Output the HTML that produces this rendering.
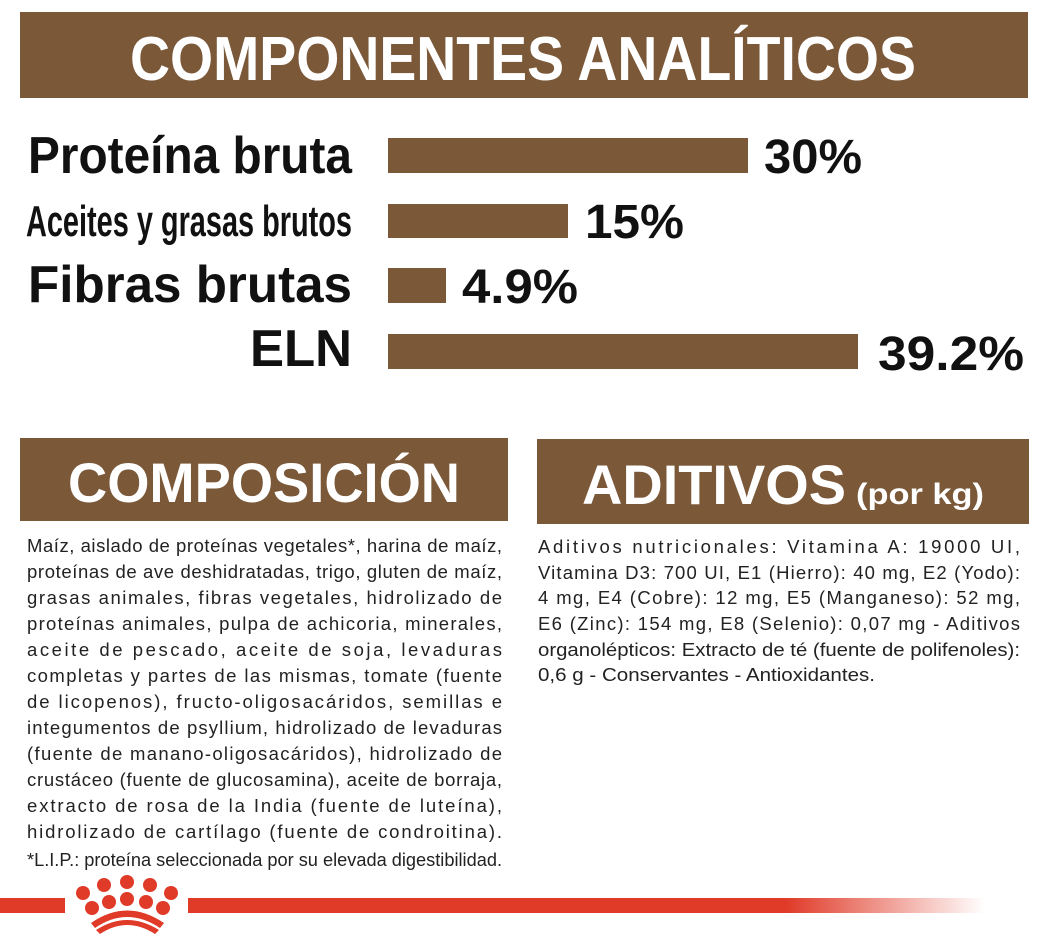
<!DOCTYPE html>
<html><head><meta charset="utf-8"><style>
html,body{margin:0;padding:0;background:#fff}
svg{display:block}
text{font-family:"Liberation Sans",sans-serif}
.b{font-weight:bold}
.t{font-size:18.5px;fill:#222}
</style></head><body>
<svg width="1040" height="948" viewBox="0 0 1040 948" xmlns="http://www.w3.org/2000/svg">
<defs><linearGradient id="fade" x1="0" x2="1"><stop offset="0" stop-color="#e03a28"/><stop offset="0.75" stop-color="#e03a28"/><stop offset="1" stop-color="#e03a28" stop-opacity="0"/></linearGradient></defs>
<rect x="20" y="12" width="1008" height="86" fill="#7a5838"/>
<text x="130" y="80" class="b" font-size="62" fill="#fff" textLength="786" lengthAdjust="spacingAndGlyphs">COMPONENTES ANALÍTICOS</text>

<g class="b" fill="#111">
<text x="28" y="173" font-size="52" textLength="324" lengthAdjust="spacingAndGlyphs">Proteína bruta</text>
<text x="26" y="236" font-size="44" textLength="326" lengthAdjust="spacingAndGlyphs">Aceites y grasas brutos</text>
<text x="28" y="302" font-size="52" textLength="324" lengthAdjust="spacingAndGlyphs">Fibras brutas</text>
<text x="250" y="366" font-size="52" textLength="102" lengthAdjust="spacingAndGlyphs">ELN</text>
<text x="764" y="173" font-size="48" textLength="98" lengthAdjust="spacingAndGlyphs">30%</text>
<text x="585" y="238" font-size="48" textLength="99" lengthAdjust="spacingAndGlyphs">15%</text>
<text x="462" y="303" font-size="48" textLength="116" lengthAdjust="spacingAndGlyphs">4.9%</text>
<text x="878" y="370" font-size="48" textLength="146" lengthAdjust="spacingAndGlyphs">39.2%</text>
</g>
<g fill="#7a5838">
<rect x="388" y="138" width="360" height="35"/>
<rect x="388" y="204" width="180" height="34"/>
<rect x="388" y="268" width="58" height="35"/>
<rect x="388" y="334" width="470" height="35"/>
<rect x="20" y="438" width="488" height="83"/>
<rect x="537" y="439" width="492" height="85"/>
</g>
<text x="68" y="502" class="b" font-size="56" fill="#fff" textLength="392" lengthAdjust="spacingAndGlyphs">COMPOSICIÓN</text>
<text x="582" y="504" class="b" font-size="56" fill="#fff" textLength="264" lengthAdjust="spacingAndGlyphs">ADITIVOS</text>
<text x="856" y="504" class="b" font-size="30" fill="#fff" textLength="128" lengthAdjust="spacingAndGlyphs">(por kg)</text>

<g class="t">
<text x="27" y="552" textLength="475" lengthAdjust="spacing">Maíz, aislado de proteínas vegetales*, harina de maíz,</text>
<text x="27" y="578" textLength="475" lengthAdjust="spacing">proteínas de ave deshidratadas, trigo, gluten de maíz,</text>
<text x="27" y="604" textLength="475" lengthAdjust="spacing">grasas animales, fibras vegetales, hidrolizado de</text>
<text x="27" y="630" textLength="475" lengthAdjust="spacing">proteínas animales, pulpa de achicoria, minerales,</text>
<text x="27" y="656" textLength="475" lengthAdjust="spacing">aceite de pescado, aceite de soja, levaduras</text>
<text x="27" y="682" textLength="475" lengthAdjust="spacing">completas y partes de las mismas, tomate (fuente</text>
<text x="27" y="708" textLength="475" lengthAdjust="spacing">de licopenos), fructo-oligosacáridos, semillas e</text>
<text x="27" y="734" textLength="475" lengthAdjust="spacing">integumentos de psyllium, hidrolizado de levaduras</text>
<text x="27" y="760" textLength="475" lengthAdjust="spacing">(fuente de manano-oligosacáridos), hidrolizado de</text>
<text x="27" y="786" textLength="475" lengthAdjust="spacing">crustáceo (fuente de glucosamina), aceite de borraja,</text>
<text x="27" y="812" textLength="475" lengthAdjust="spacing">extracto de rosa de la India (fuente de luteína),</text>
<text x="27" y="838" textLength="475" lengthAdjust="spacing">hidrolizado de cartílago (fuente de condroitina).</text>
<text x="27" y="866" textLength="475" lengthAdjust="spacingAndGlyphs">*L.I.P.: proteína seleccionada por su elevada digestibilidad.</text>

<text x="538" y="553" textLength="482" lengthAdjust="spacing">Aditivos nutricionales: Vitamina A: 19000 UI,</text>
<text x="538" y="579" textLength="482" lengthAdjust="spacing">Vitamina D3: 700 UI, E1 (Hierro): 40 mg, E2 (Yodo):</text>
<text x="538" y="604" textLength="482" lengthAdjust="spacing">4 mg, E4 (Cobre): 12 mg, E5 (Manganeso): 52 mg,</text>
<text x="538" y="630" textLength="482" lengthAdjust="spacing">E6 (Zinc): 154 mg, E8 (Selenio): 0,07 mg - Aditivos</text>
<text x="538" y="656" textLength="482" lengthAdjust="spacingAndGlyphs">organolépticos: Extracto de té (fuente de polifenoles):</text>
<text x="538" y="681" textLength="337" lengthAdjust="spacingAndGlyphs">0,6 g - Conservantes - Antioxidantes.</text>
</g>

<rect x="0" y="898" width="65" height="15" fill="#e03a28"/>
<rect x="188" y="898" width="797" height="15" fill="url(#fade)"/>
<g fill="#e03a28">
<circle cx="83" cy="893" r="7"/>
<circle cx="104" cy="885" r="7"/>
<circle cx="127" cy="882" r="7"/>
<circle cx="150" cy="885" r="7"/>
<circle cx="171" cy="893" r="7"/>
<circle cx="92" cy="908" r="7"/>
<circle cx="109" cy="902" r="7"/>
<circle cx="127" cy="899" r="7"/>
<circle cx="146" cy="902" r="7"/>
<circle cx="163" cy="908" r="7"/>
<path d="M91 923 Q127 898 164 923 L160 928 Q127 906 95 928 Z"/>
<path d="M96 930 Q127 910 159 930 L155 934 Q127 916 100 934 Z"/>
</g>
</svg>
</body></html>
